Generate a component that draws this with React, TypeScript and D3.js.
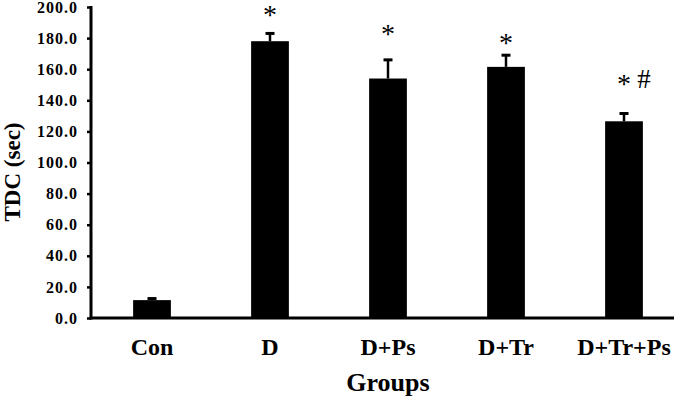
import React, { useEffect, useRef } from 'react';
import * as d3 from 'd3';

const groups = ['Con', 'D', 'D+Ps', 'D+Tr', 'D+Tr+Ps'];
const means = [11.5, 178, 154, 161.5, 126.5];
const errors = [1, 5, 12, 7.5, 5];
// significance marks and the value level where each one sits
const marks = ['', '*', '*', '*', '*'];
const hashMarks = ['', '', '', '', '#'];
const markLevels = [0, 198, 186, 180, 154];
const yTicks = [0, 20, 40, 60, 80, 100, 120, 140, 160, 180, 200];

const App = () => {
  const ref = useRef(null);

  useEffect(() => {
    const width = 685;
    const height = 400;
    const svg = d3.select(ref.current);
    svg.selectAll('*').remove();
    svg.attr('width', width).attr('height', height);

    const x = d3.scaleBand()
      .domain(groups)
      .range([93, 683])
      .paddingInner(0.68)
      .paddingOuter(0.34);

    const y = d3.scaleLinear()
      .domain([0, 200])
      .range([318, 7]);

    const serif = 'Liberation Serif, Times New Roman, serif';

    // bars
    svg.selectAll('rect.bar')
      .data(means)
      .enter()
      .append('rect')
      .attr('class', 'bar')
      .attr('x', (d, i) => x(groups[i]))
      .attr('y', d => y(d))
      .attr('width', x.bandwidth())
      .attr('height', d => y(0) - y(d))
      .attr('fill', '#000');

    // error bars, upper half only
    const eb = svg.selectAll('g.err')
      .data(means)
      .enter()
      .append('g')
      .attr('class', 'err');
    eb.append('line')
      .attr('x1', (d, i) => x(groups[i]) + x.bandwidth() / 2)
      .attr('x2', (d, i) => x(groups[i]) + x.bandwidth() / 2)
      .attr('y1', d => y(d))
      .attr('y2', (d, i) => y(d + errors[i]))
      .attr('stroke', '#000')
      .attr('stroke-width', 2.5);
    eb.append('line')
      .attr('x1', (d, i) => x(groups[i]) + x.bandwidth() / 2 - 4.5)
      .attr('x2', (d, i) => x(groups[i]) + x.bandwidth() / 2 + 4.5)
      .attr('y1', (d, i) => y(d + errors[i]))
      .attr('y2', (d, i) => y(d + errors[i]))
      .attr('stroke', '#000')
      .attr('stroke-width', 3);

    // significance marks
    svg.selectAll('text.star')
      .data(marks)
      .enter()
      .append('text')
      .attr('class', 'star')
      .attr('x', (d, i) => x(groups[i]) + x.bandwidth() / 2)
      .attr('y', (d, i) => y(markLevels[i]) + 14)
      .attr('text-anchor', 'middle')
      .attr('font-family', serif)
      .attr('font-size', 28)
      .text(d => d);
    svg.selectAll('text.hash')
      .data(hashMarks)
      .enter()
      .append('text')
      .attr('class', 'hash')
      .attr('x', (d, i) => x(groups[i]) + x.bandwidth() / 2 + 20)
      .attr('y', (d, i) => y(markLevels[i]) + 9)
      .attr('text-anchor', 'middle')
      .attr('font-family', serif)
      .attr('font-size', 27)
      .text(d => d);

    // y axis
    const yAxis = svg.append('g')
      .attr('transform', 'translate(91,0)')
      .call(d3.axisLeft(y).tickValues(yTicks).tickFormat(d3.format('.1f')).tickSize(4).tickPadding(9));
    yAxis.select('.domain').remove();
    yAxis.selectAll('.tick line').attr('stroke', '#000').attr('stroke-width', 2.5);
    yAxis.selectAll('.tick text')
      .attr('font-family', serif)
      .attr('font-size', 16)
      .attr('letter-spacing', 1)
      .attr('font-weight', 'bold')
      .attr('fill', '#000');

    svg.append('line')
      .attr('x1', 91).attr('x2', 91)
      .attr('y1', y(200) - 1).attr('y2', y(0) + 1.5)
      .attr('stroke', '#000')
      .attr('stroke-width', 3);
    svg.append('line')
      .attr('x1', 89.5).attr('x2', 674)
      .attr('y1', y(0)).attr('y2', y(0))
      .attr('stroke', '#000')
      .attr('stroke-width', 3);

    // category labels
    svg.selectAll('text.cat')
      .data(groups)
      .enter()
      .append('text')
      .attr('class', 'cat')
      .attr('x', d => x(d) + x.bandwidth() / 2)
      .attr('y', 355)
      .attr('text-anchor', 'middle')
      .attr('font-family', serif)
      .attr('font-size', 24)
      .attr('font-weight', 'bold')
      .text(d => d);

    svg.append('text')
      .attr('x', 388)
      .attr('y', 391)
      .attr('text-anchor', 'middle')
      .attr('font-family', serif)
      .attr('font-size', 26)
      .attr('font-weight', 'bold')
      .text('Groups');

    svg.append('text')
      .attr('transform', 'translate(20,172) rotate(-90)')
      .attr('text-anchor', 'middle')
      .attr('font-family', serif)
      .attr('font-size', 23)
      .attr('font-weight', 'bold')
      .text('TDC (sec)');
  }, []);

  return (
    <svg ref={ref} style={{ position: 'absolute', left: 0, top: 0, background: '#fff' }}></svg>
  );
};

export default App;
